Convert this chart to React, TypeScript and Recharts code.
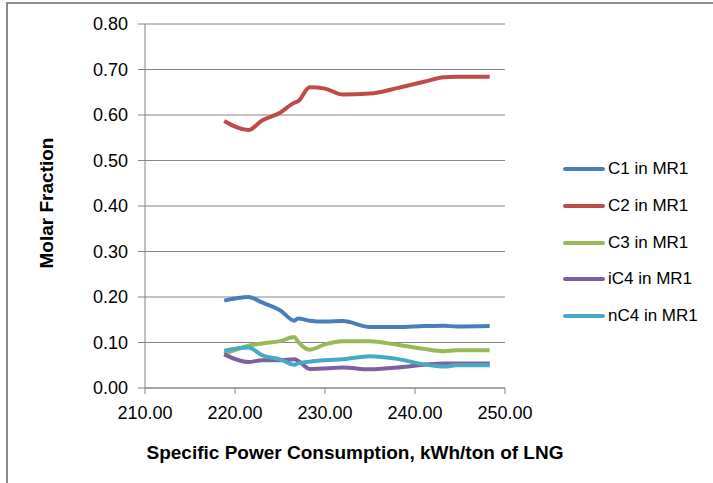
import React from "react";
import {
  LineChart,
  Line,
  XAxis,
  YAxis,
  CartesianGrid,
  Legend,
  Label,
} from "recharts";

// specific power consumption, kWh/ton of LNG
const power = [
  218.8, 221.5, 223.0, 225.0, 226.6, 227.0, 228.3, 230.0, 232.0, 235.0, 238.0,
  241.0, 243.2, 244.6, 248.3,
];

// molar fractions in MR1
const c1 = [
  0.192, 0.2, 0.188, 0.171, 0.148, 0.153, 0.148, 0.146, 0.147, 0.134, 0.134,
  0.136, 0.137, 0.135, 0.136,
];
const c2 = [
  0.587, 0.567, 0.588, 0.605, 0.627, 0.63, 0.661, 0.658, 0.645, 0.647, 0.659,
  0.673, 0.683, 0.684, 0.684,
];
const c3 = [
  0.075, 0.093, 0.098, 0.103, 0.112, 0.102, 0.084, 0.096, 0.103, 0.103, 0.095,
  0.086, 0.081, 0.083, 0.083,
];
const ic4 = [
  0.074, 0.057, 0.061, 0.061, 0.063, 0.06, 0.042, 0.043, 0.045, 0.041, 0.045,
  0.051, 0.054, 0.054, 0.054,
];
const nc4 = [
  0.082, 0.089, 0.072, 0.063, 0.051, 0.054, 0.058, 0.061, 0.063, 0.07, 0.064,
  0.052, 0.047, 0.05, 0.05,
];

const xTicks = [210, 220, 230, 240, 250];
const yTicks = [0, 0.1, 0.2, 0.3, 0.4, 0.5, 0.6, 0.7, 0.8];

const series = [
  { key: "c1", name: "C1 in MR1", color: "#4A7EBB" },
  { key: "c2", name: "C2 in MR1", color: "#BE4B48" },
  { key: "c3", name: "C3 in MR1", color: "#98B954" },
  { key: "ic4", name: "iC4 in MR1", color: "#7D60A0" },
  { key: "nc4", name: "nC4 in MR1", color: "#46AAC5" },
];

const data = power.map((x, i) => ({
  x,
  c1: c1[i],
  c2: c2[i],
  c3: c3[i],
  ic4: ic4[i],
  nc4: nc4[i],
}));

const FONT = "'Liberation Sans', Arial, sans-serif";
const GRID = "#868686";
const tickStyle = { fill: "#000", fontSize: 18, fontFamily: FONT };

const renderLegend = () => (
  <div style={{ fontFamily: FONT, fontSize: 17, color: "#000" }}>
    {series.map((s) => (
      <div
        key={s.key}
        style={{ display: "flex", alignItems: "center", height: 36.7 }}
      >
        <span
          style={{
            width: 42,
            height: 4,
            borderRadius: 2,
            background: s.color,
            marginRight: 3,
          }}
        />
        <span>{s.name}</span>
      </div>
    ))}
  </div>
);

export default function App() {
  return (
    <div
      style={{
        position: "absolute",
        left: 0,
        top: 0,
        width: 713,
        height: 483,
        background: "#fff",
        overflow: "hidden",
      }}
    >
      <div
        style={{
          position: "absolute",
          left: 6,
          top: 2,
          width: 720,
          height: 479,
          borderLeft: "2px solid #8c8c8c",
          borderTop: "2px solid #8c8c8c",
          borderBottom: "1px solid #e4e4e4",
        }}
      />
      <div style={{ position: "absolute", left: 0, top: 0 }}>
        <LineChart
          width={713}
          height={483}
          data={data}
          margin={{ top: 24, right: 58, bottom: 0, left: 0 }}
        >
          <CartesianGrid vertical={false} stroke={GRID} strokeWidth={1} />
          <XAxis
            dataKey="x"
            type="number"
            domain={[210, 250]}
            ticks={xTicks}
            height={95}
            stroke={GRID}
            tickSize={6}
            tickMargin={12}
            tick={tickStyle}
            tickFormatter={(v: number) => v.toFixed(2)}
          >
            <Label
              content={() => (
                <text
                  x={355}
                  y={452}
                  textAnchor="middle"
                  dominantBaseline="central"
                  fontFamily={FONT}
                  fontSize={19}
                  fontWeight="bold"
                  fill="#000"
                >
                  Specific Power Consumption, kWh/ton of LNG
                </text>
              )}
            />
          </XAxis>
          <YAxis
            type="number"
            domain={[0, 0.8]}
            ticks={yTicks}
            width={145}
            stroke={GRID}
            tickSize={7}
            tickMargin={10}
            tick={tickStyle}
            tickFormatter={(v: number) => v.toFixed(2)}
          >
            <Label
              content={() => (
                <text
                  x={46}
                  y={203}
                  transform="rotate(-90 46 203)"
                  textAnchor="middle"
                  dominantBaseline="central"
                  fontFamily={FONT}
                  fontSize={19}
                  fontWeight="bold"
                  fill="#000"
                >
                  Molar Fraction
                </text>
              )}
            />
          </YAxis>
          <Legend
            layout="vertical"
            align="right"
            verticalAlign="top"
            content={renderLegend}
            wrapperStyle={{ left: 563, top: 151, width: 150 }}
          />
          {series.map((s) => (
            <Line
              key={s.key}
              type="monotone"
              dataKey={s.key}
              name={s.name}
              stroke={s.color}
              strokeWidth={4}
              dot={false}
              isAnimationActive={false}
            />
          ))}
        </LineChart>
      </div>
    </div>
  );
}
